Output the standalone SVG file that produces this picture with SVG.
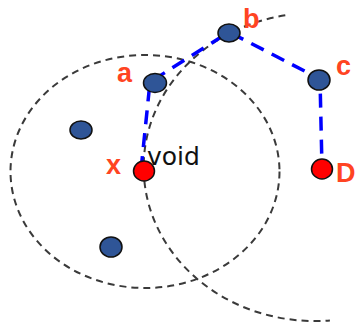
<svg xmlns="http://www.w3.org/2000/svg" width="355" height="323" viewBox="0 0 355 323">
<style>
.arc{fill:none;stroke:#3a3a3a;stroke-width:2;stroke-dasharray:7 5}
.path{fill:none;stroke:#0000ff;stroke-width:3.5;stroke-dasharray:14 9}
.bn{fill:#2f5597;stroke:#111;stroke-width:1.5}
.rn{fill:#ff0000;stroke:#111;stroke-width:1.5}
.lbl{font-family:"Liberation Sans",Arial,sans-serif;font-weight:bold;font-size:27px;fill:#ff4422}
.void{font-family:"DejaVu Sans",sans-serif;font-size:25px;fill:#111}
</style>
<rect width="355" height="323" fill="#fff"/>
<g id="ranges">
<ellipse class="arc" cx="145" cy="171.5" rx="134.5" ry="116.5"/>
<path class="arc" d="M285.3,15.3 A171,154 0 0 0 329.9,320.4"/>
</g>
<g id="connectors">
<path class="path" d="M141,170 L150,82 L229,32 L320,79 L322,168"/>
</g>
<g id="node-a"><ellipse class="bn" cx="155" cy="83" rx="11.5" ry="9.5"/><text class="lbl" x="117" y="82">a</text></g>
<g id="node-b"><ellipse class="bn" cx="229" cy="33" rx="11" ry="9"/><text class="lbl" x="243" y="28">b</text></g>
<g id="node-c"><ellipse class="bn" cx="319" cy="80" rx="11" ry="10"/><text class="lbl" x="336" y="75">c</text></g>
<g id="node-D"><ellipse class="rn" cx="322" cy="169" rx="10.5" ry="10"/><text class="lbl" x="336" y="182">D</text></g>
<g id="node-x"><ellipse class="rn" cx="144" cy="171" rx="10.5" ry="10"/><text class="lbl" x="106" y="174">x</text><text class="void" x="147" y="165">void</text></g>
<g id="node-1"><ellipse class="bn" cx="81" cy="130" rx="11" ry="9"/></g>
<g id="node-2"><ellipse class="bn" cx="111" cy="247" rx="11" ry="10"/></g>
</svg>
